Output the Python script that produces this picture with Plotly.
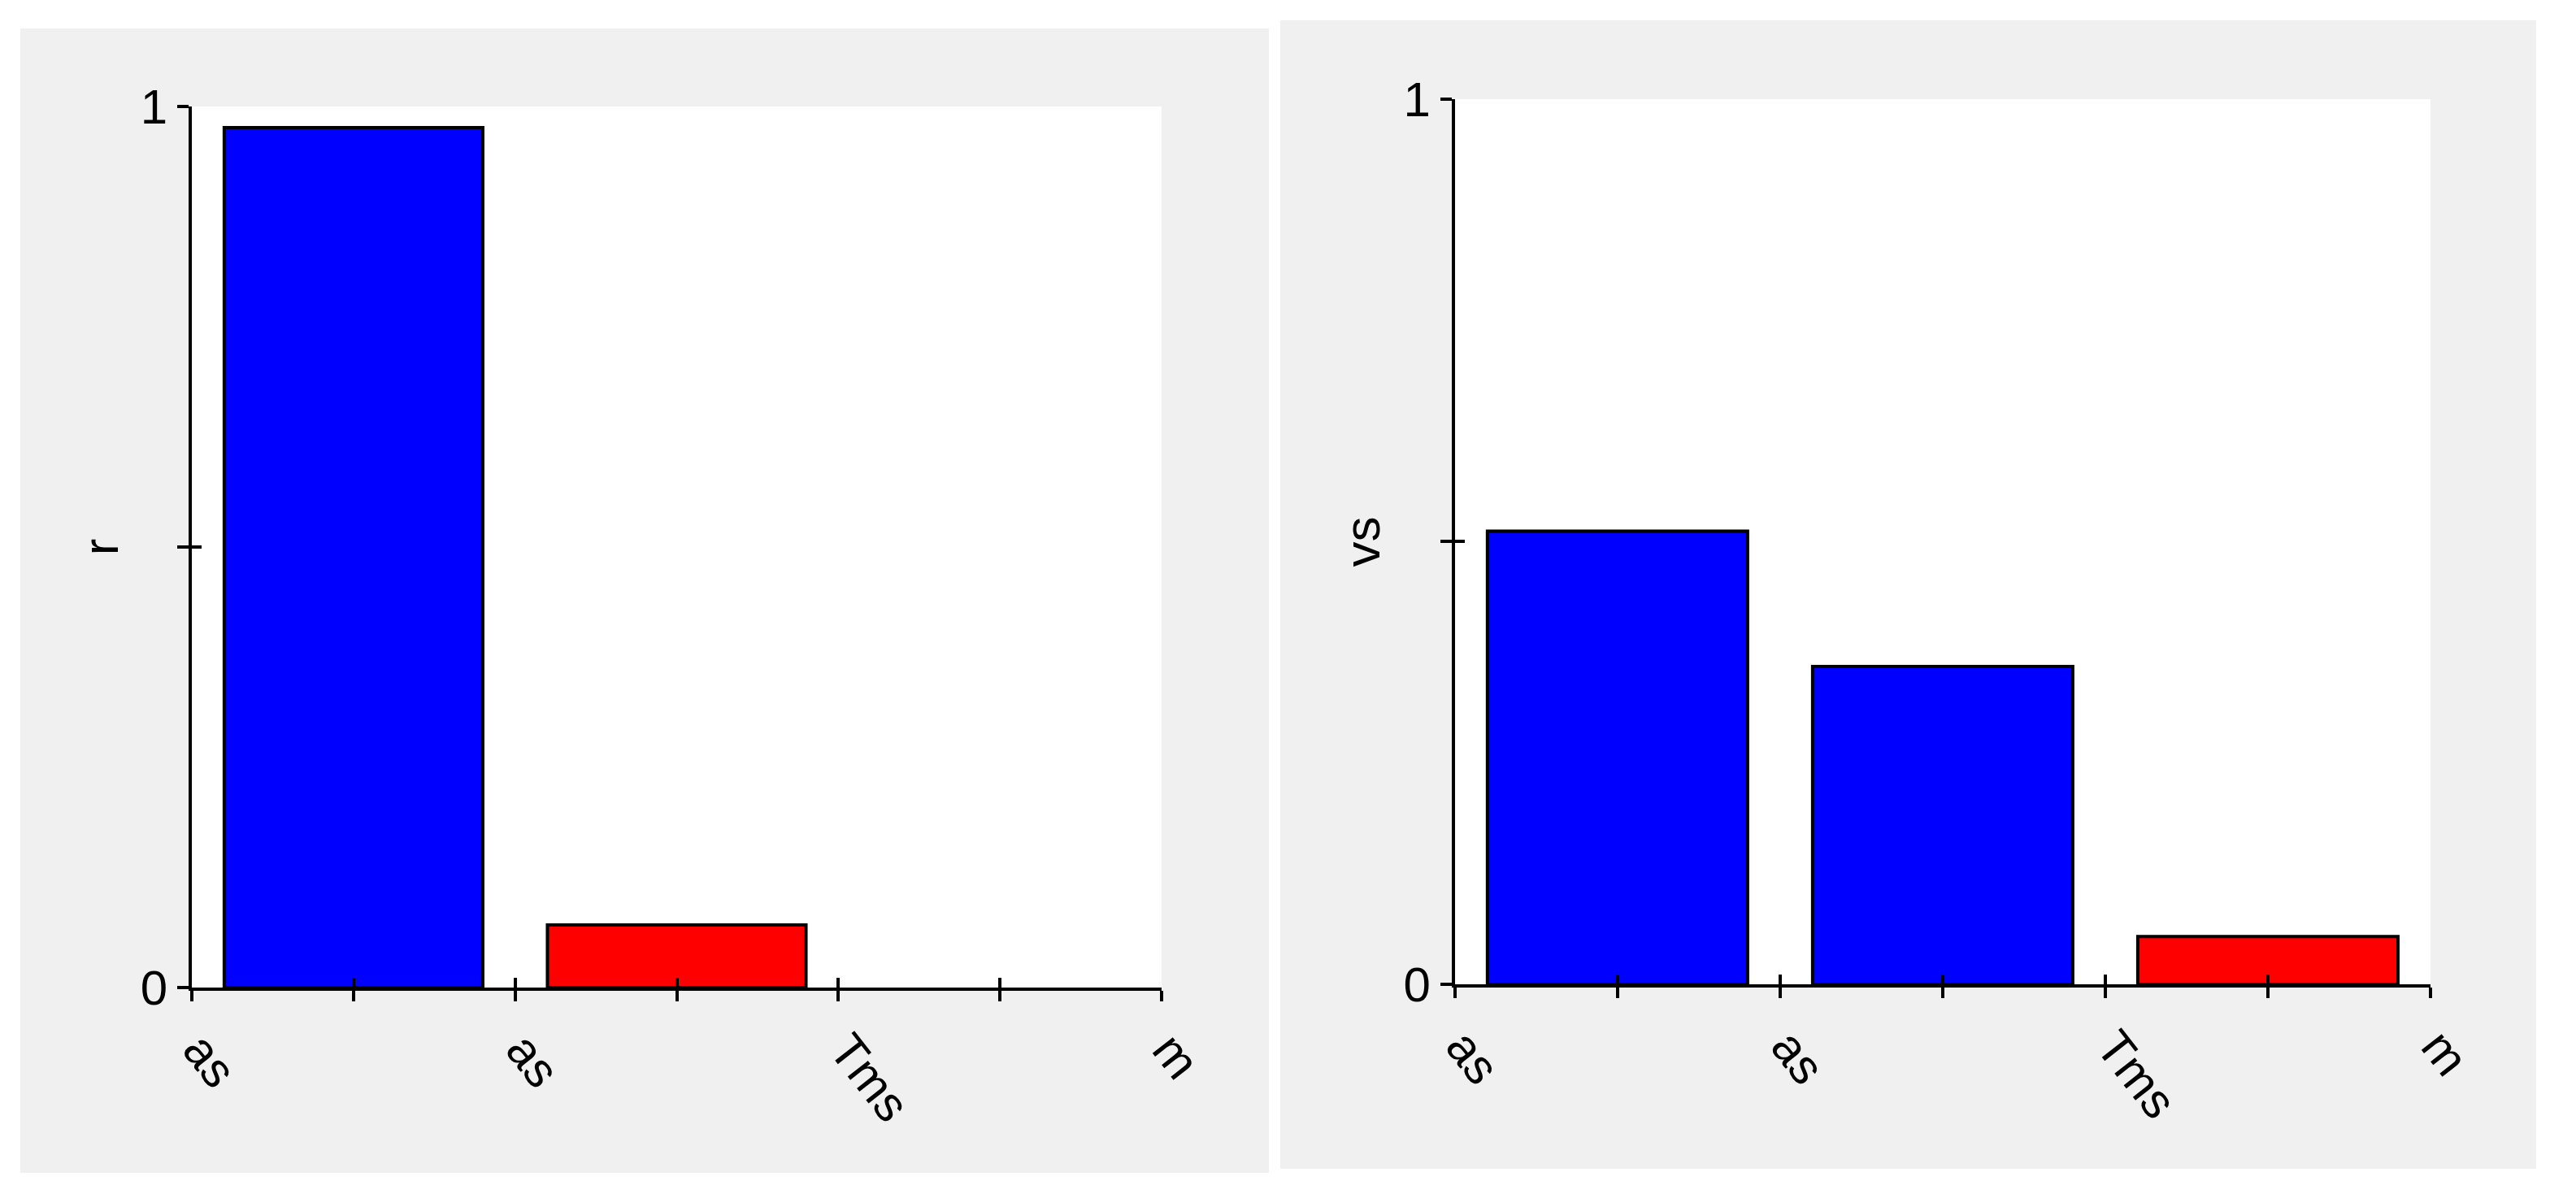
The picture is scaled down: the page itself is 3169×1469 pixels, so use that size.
import plotly.graph_objects as go

# ---- data ----
boundary_labels = ["as", "as", "Tms", "m"]      # labels at slot boundaries
slots = [0, 1, 2]                                # bar slots
left_values = [0.976, 0.071, None]
left_colors = ["#0000ff", "#ff0000", "#0000ff"]
right_values = [0.512, 0.359, 0.054]
right_colors = ["#0000ff", "#0000ff", "#ff0000"]
left_title = "r"
right_title = "vs"
y_tickvals = [0, 0.5, 1]
y_ticktext = ["0", "", "1"]

FONT = "Liberation Sans, Arial, sans-serif"
TICKFONT = dict(family=FONT, size=60, color="#000000")

# x ticks at boundaries and slot centres; labels only at boundaries
x_tickvals = []
x_ticktext = []
for i, lab in enumerate(boundary_labels):
    x_tickvals.append(i)
    x_ticktext.append(lab)
    if i < len(boundary_labels) - 1:
        x_tickvals.append(i + 0.5)
        x_ticktext.append("")
x_range = [0, len(boundary_labels) - 1]

fig = go.Figure()


def add_bars(values, colors, xa, ya):
    xs, ys, cs = [], [], []
    for s, v, c in zip(slots, values, colors):
        if v is None:
            continue
        xs.append(s + 0.5)
        ys.append(v)
        cs.append(c)
    fig.add_trace(go.Bar(
        x=xs, y=ys, width=0.8, xaxis=xa, yaxis=ya,
        marker=dict(color=cs, line=dict(color="#000000", width=4)),
        showlegend=False, hoverinfo="skip",
    ))


add_bars(left_values, left_colors, "x", "y")
add_bars(right_values, right_colors, "x2", "y2")

# empty traces to make overlay axes (inside tick halves) render
for xa, ya in [("x3", "y"), ("x", "y3"), ("x4", "y2"), ("x2", "y4")]:
    fig.add_trace(go.Scatter(x=[], y=[], xaxis=xa, yaxis=ya,
                             showlegend=False, hoverinfo="skip"))

common_x = dict(range=x_range, tickmode="array", tickvals=x_tickvals,
                showgrid=False, zeroline=False, fixedrange=True,
                automargin=False)
common_y = dict(range=[0, 1], tickmode="array", tickvals=y_tickvals,
                showgrid=False, zeroline=False, fixedrange=True,
                automargin=False)

main_x = dict(common_x, ticktext=x_ticktext, ticks="outside", ticklen=13,
              tickwidth=4, tickcolor="#000000", showline=True,
              linecolor="#000000", linewidth=4, tickangle=52,
              ticklabelshift=10, tickfont=TICKFONT)
main_y = dict(common_y, ticktext=y_ticktext, ticks="outside", ticklen=14,
              tickwidth=4, tickcolor="#000000", showline=True,
              linecolor="#000000", linewidth=4, tickfont=TICKFONT)
over_x = dict(common_x, ticks="inside", ticklen=12, tickwidth=4,
              tickcolor="#000000", showticklabels=False, showline=False)
over_y = dict(common_y, ticks="inside", ticklen=12, tickwidth=4,
              tickcolor="#000000", showticklabels=False, showline=False)

LDX = [0.0745, 0.4509]
LDY = [0.1729, 0.9108]
RDX = [0.5648, 0.9435]
RDY = [0.1756, 0.9170]

fig.update_layout(
    width=3169, height=1469,
    margin=dict(l=0, r=0, t=0, b=0, autoexpand=False),
    paper_bgcolor="#ffffff",
    plot_bgcolor="#ffffff",
    font=dict(family=FONT, color="#000000"),
    bargap=0,
    xaxis=dict(main_x, domain=LDX, anchor="y"),
    yaxis=dict(main_y, domain=LDY, anchor="x",
               title=dict(text=left_title, standoff=8,
                          font=dict(family=FONT, size=62, color="#000000"))),
    xaxis2=dict(main_x, domain=RDX, anchor="y2"),
    yaxis2=dict(main_y, domain=RDY, anchor="x2",
                title=dict(text=right_title, standoff=10,
                           font=dict(family=FONT, size=62, color="#000000"))),
    xaxis3=dict(over_x, overlaying="x", anchor="y"),
    yaxis3=dict(over_y, overlaying="y", anchor="x"),
    xaxis4=dict(over_x, overlaying="x2", anchor="y2"),
    yaxis4=dict(over_y, overlaying="y2", anchor="x2"),
    shapes=[
        dict(type="rect", xref="paper", yref="paper", x0=0.0079, x1=0.4926,
             y0=0.0177, y1=0.9762, fillcolor="#f0f0f0", line=dict(width=0),
             layer="below"),
        dict(type="rect", xref="paper", yref="paper", x0=0.4970, x1=0.9845,
             y0=0.0211, y1=0.9830, fillcolor="#f0f0f0", line=dict(width=0),
             layer="below"),
        dict(type="rect", xref="x domain", yref="y domain", x0=0, x1=1,
             y0=0, y1=1, fillcolor="#ffffff", line=dict(width=0),
             layer="below"),
        dict(type="rect", xref="x2 domain", yref="y2 domain", x0=0, x1=1,
             y0=0, y1=1, fillcolor="#ffffff", line=dict(width=0),
             layer="below"),
    ],
)

fig.write_html(
    "out.html",
    config={"displayModeBar": False, "staticPlot": True},
    post_script="document.body.style.margin='0px';"
                "document.body.style.overflow='hidden';",
)
